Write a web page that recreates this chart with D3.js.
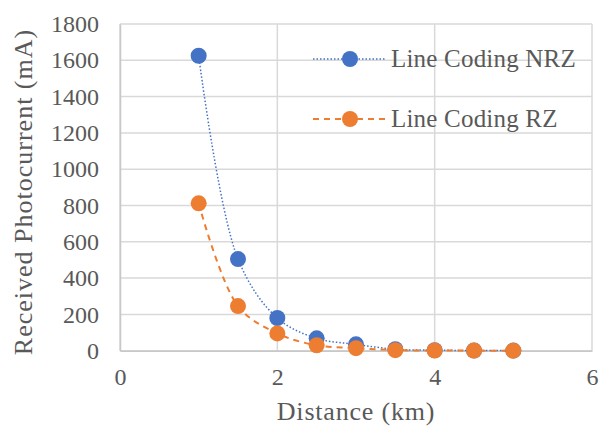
<!DOCTYPE html>
<html><head><meta charset="utf-8">
<script src="https://cdn.jsdelivr.net/npm/d3@7"></script>
<style>body{margin:0;background:#fff}svg{display:block}</style>
</head><body>
<svg id="c" width="603" height="430"></svg>
<script>
const distance = [1, 1.5, 2, 2.5, 3, 3.5, 4, 4.5, 5];
const nrz = [1625, 505, 180, 68, 35, 8, 3, 1, 0.5];
const rz = [812, 246, 95, 30, 14, 3, 1, 0.5, 0.2];
const seriesNames = ["Line Coding NRZ", "Line Coding RZ"];
const xTicks = [0, 2, 4, 6];
const yTicks = [0, 200, 400, 600, 800, 1000, 1200, 1400, 1600, 1800];

const svg = d3.select("#c");
const font = "'Liberation Serif','Times New Roman',serif";
const L = 120, R = 592, T = 24, B = 350.7;
const x = d3.scaleLinear().domain([0, 6]).range([L, R]);
const y = d3.scaleLinear().domain([0, 1800]).range([B, T]);

// grid
const grid = svg.append("g");
grid.selectAll("line.h").data(yTicks).join("line")
  .attr("x1", L).attr("x2", R).attr("y1", d => y(d)).attr("y2", d => y(d))
  .attr("stroke", "#d9d9d9").attr("stroke-width", 1.5);
grid.selectAll("line.v").data(xTicks).join("line")
  .attr("y1", T).attr("y2", B).attr("x1", d => x(d)).attr("x2", d => x(d))
  .attr("stroke", "#d9d9d9").attr("stroke-width", 1.5);

// axes
const yAxis = d3.axisLeft(y).tickValues(yTicks).tickFormat(d3.format("d")).tickSize(0).tickPadding(21);
const gy = svg.append("g").attr("transform", `translate(${L},0)`).call(yAxis);
gy.select(".domain").attr("stroke", "#c8c8c8").attr("stroke-width", 1.5);
gy.selectAll("text").attr("font-family", font).attr("font-size", 24).attr("fill", "#595959");

const xAxis = d3.axisBottom(x).tickValues(xTicks).tickFormat(d3.format("d")).tickSize(0).tickPadding(17);
const gx = svg.append("g").attr("transform", `translate(0,${B})`).call(xAxis);
gx.select(".domain").attr("stroke", "#c8c8c8").attr("stroke-width", 1.5);
gx.selectAll("text").attr("font-family", font).attr("font-size", 24).attr("fill", "#595959");

// titles
svg.append("text").attr("x", 356).attr("y", 420).attr("text-anchor", "middle")
  .attr("font-family", font).attr("font-size", 26).attr("letter-spacing", 0.8)
  .attr("fill", "#595959").text("Distance (km)");
svg.append("text").attr("transform", "translate(32,192) rotate(-90)").attr("text-anchor", "middle")
  .attr("font-family", font).attr("font-size", 26).attr("letter-spacing", 1)
  .attr("fill", "#595959").text("Received Photocurrent (mA)");

const curve = d3.curveCatmullRom.alpha(0.5);
const line = d3.line().x((d, i) => x(distance[i])).y(d => y(d)).curve(curve);

const series = [
  {name: seriesNames[0], values: nrz, color: "#4472C4", dash: "1.5,2", width: 1.5},
  {name: seriesNames[1], values: rz, color: "#ED7D31", dash: "6,5", width: 2}
];

series.forEach(s => {
  svg.append("path").attr("d", line(s.values)).attr("fill", "none")
    .attr("stroke", s.color).attr("stroke-width", s.width).attr("stroke-dasharray", s.dash);
});
series.forEach(s => {
  svg.append("g").selectAll("circle").data(s.values).join("circle")
    .attr("cx", (d, i) => x(distance[i])).attr("cy", d => y(d)).attr("r", 8)
    .attr("fill", s.color);
});

// legend
const legY = [59, 119];
series.forEach((s, i) => {
  const g = svg.append("g");
  g.append("line").attr("x1", 313).attr("x2", 385).attr("y1", legY[i]).attr("y2", legY[i])
    .attr("stroke", s.color).attr("stroke-width", s.width).attr("stroke-dasharray", s.dash);
  g.append("circle").attr("cx", 350).attr("cy", legY[i]).attr("r", 8).attr("fill", s.color);
  g.append("text").attr("x", 391).attr("y", legY[i] + 8).attr("font-family", font)
    .attr("font-size", 25).attr("letter-spacing", 0.2).attr("fill", "#595959").text(s.name);
});
</script>
</body></html>
